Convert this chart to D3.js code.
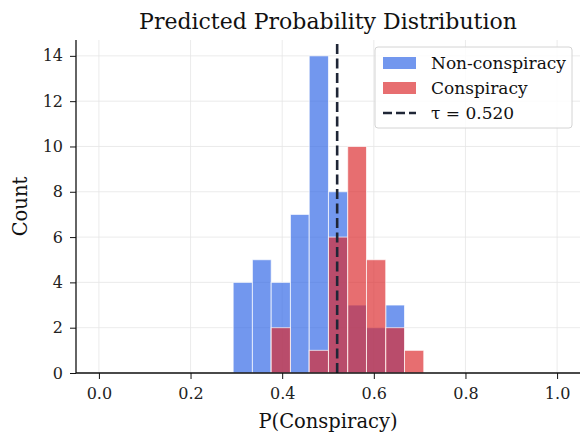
<!DOCTYPE html>
<html>
<head>
<meta charset="utf-8">
<script src="https://cdn.jsdelivr.net/npm/d3@7"></script>
<style>
  body { margin: 0; background: #fff; }
  svg { font-family: "DejaVu Serif", serif; }
</style>
</head>
<body>
<div id="chart"></div>
<script>
// bin edges shared by both histograms
var binEdges = [0.293, 0.335, 0.376, 0.418, 0.459, 0.501, 0.543, 0.584, 0.626, 0.667, 0.709];
var nonConspiracy = [4, 5, 4, 7, 14, 8, 3, 2, 3, 0];
var conspiracy = [0, 0, 2, 0, 1, 6, 10, 5, 2, 1];
var threshold = 0.520;
var xTicks = [0.0, 0.2, 0.4, 0.6, 0.8, 1.0];
var yTicks = [0, 2, 4, 6, 8, 10, 12, 14];

var width = 582, height = 433;
var margin = {top: 40, right: 2, bottom: 60, left: 76};

var svg = d3.select("#chart").append("svg")
    .attr("width", width)
    .attr("height", height);

var x = d3.scaleLinear().domain([-0.05, 1.05]).range([margin.left, width - margin.right]);
var y = d3.scaleLinear().domain([0, 14.7]).range([height - margin.bottom, margin.top]);

// grid
svg.append("g").selectAll("line.gx")
    .data(xTicks).enter().append("line")
    .attr("x1", function(d){ return x(d); })
    .attr("x2", function(d){ return x(d); })
    .attr("y1", y(0)).attr("y2", margin.top)
    .attr("stroke", "#e6e6e6").attr("stroke-width", 0.8);
svg.append("g").selectAll("line.gy")
    .data(yTicks).enter().append("line")
    .attr("x1", margin.left).attr("x2", width - margin.right)
    .attr("y1", function(d){ return y(d); })
    .attr("y2", function(d){ return y(d); })
    .attr("stroke", "#e6e6e6").attr("stroke-width", 0.8);

function drawHist(counts, color) {
  svg.append("g").selectAll("rect")
    .data(counts).enter().append("rect")
    .attr("x", function(d,i){ return x(binEdges[i]); })
    .attr("width", function(d,i){ return x(binEdges[i+1]) - x(binEdges[i]); })
    .attr("y", function(d){ return y(d); })
    .attr("height", function(d){ return y(0) - y(d); })
    .attr("fill", color)
    .attr("fill-opacity", 0.68)
    .attr("stroke", "#fff")
    .attr("stroke-opacity", 0.7)
    .attr("stroke-width", 1)
    .style("display", function(d){ return d > 0 ? null : "none"; });
}
drawHist(nonConspiracy, "#2f66e6");
drawHist(conspiracy, "#dc2a2c");

// threshold
svg.append("line")
    .attr("x1", x(threshold)).attr("x2", x(threshold))
    .attr("y1", y(0)).attr("y2", margin.top)
    .attr("stroke", "#1f2636")
    .attr("stroke-width", 2.6)
    .attr("stroke-dasharray", "10,4.5");

// axes
var xAxis = svg.append("g")
    .attr("transform", "translate(0," + y(0) + ")")
    .call(d3.axisBottom(x).tickValues(xTicks).tickFormat(d3.format(".1f")).tickSize(6).tickPadding(9));
var yAxis = svg.append("g")
    .attr("transform", "translate(" + margin.left + ",0)")
    .call(d3.axisLeft(y).tickValues(yTicks).tickSize(6).tickPadding(7));
[xAxis, yAxis].forEach(function(a){
  a.select(".domain").attr("stroke", "#111").attr("stroke-width", 1.3);
  a.selectAll(".tick line").attr("stroke", "#111").attr("stroke-width", 1);
  a.selectAll(".tick text").attr("font-family", "DejaVu Serif").attr("font-size", 16).attr("fill", "#222");
});
xAxis.select(".domain").attr("d", "M" + margin.left + ",0H" + (width - margin.right));
yAxis.select(".domain").attr("d", "M0," + y(0) + "V" + margin.top);

// labels
svg.append("text")
    .attr("x", x(0.5)).attr("y", 29)
    .attr("text-anchor", "middle")
    .attr("font-size", 22).attr("fill", "#111")
    .text("Predicted Probability Distribution");
svg.append("text")
    .attr("x", x(0.5)).attr("y", 428)
    .attr("text-anchor", "middle")
    .attr("font-size", 19.5).attr("fill", "#111")
    .text("P(Conspiracy)");
svg.append("text")
    .attr("transform", "translate(27," + ((y(0) + margin.top) / 2) + ") rotate(-90)")
    .attr("text-anchor", "middle")
    .attr("font-size", 19.5).attr("fill", "#111")
    .text("Count");

// legend
var legend = svg.append("g").attr("transform", "translate(375,47)");
legend.append("rect")
    .attr("width", 197).attr("height", 81).attr("rx", 3)
    .attr("fill", "#fff").attr("fill-opacity", 0.85)
    .attr("stroke", "#d4d4d4");
var items = [
  {label: "Non-conspiracy", color: "#2f66e6", type: "patch"},
  {label: "Conspiracy", color: "#dc2a2c", type: "patch"},
  {label: "\u03c4 = " + threshold.toFixed(3), color: "#1f2636", type: "line"}
];
items.forEach(function(it, i){
  var gy = 16 + i * 25;
  if (it.type == "patch") {
    legend.append("rect")
      .attr("x", 8).attr("y", gy - 6).attr("width", 33).attr("height", 12)
      .attr("fill", it.color).attr("fill-opacity", 0.68);
  } else {
    legend.append("line")
      .attr("x1", 8).attr("x2", 41).attr("y1", gy).attr("y2", gy)
      .attr("stroke", it.color).attr("stroke-width", 2.5)
      .attr("stroke-dasharray", "9,4");
  }
  legend.append("text")
    .attr("x", 56).attr("y", gy + 6)
    .attr("font-size", 17).attr("fill", "#111")
    .text(it.label);
});
</script>
</body>
</html>
